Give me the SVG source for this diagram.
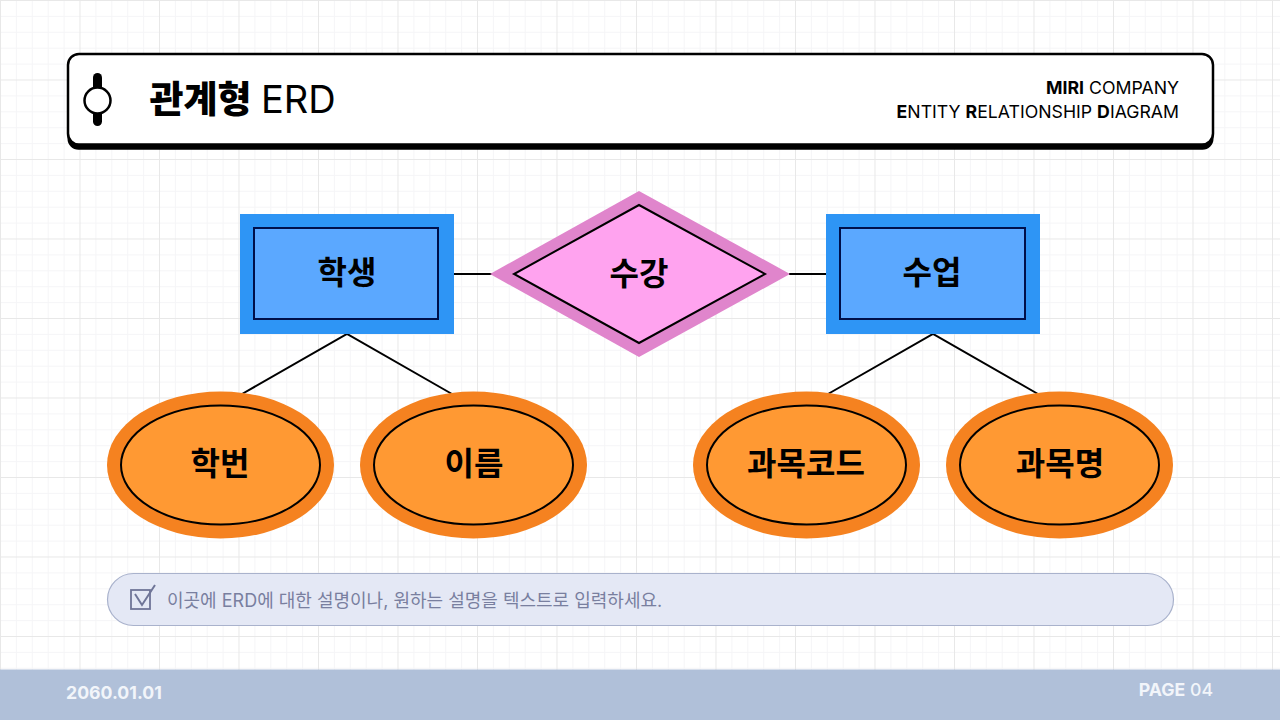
<svg xmlns="http://www.w3.org/2000/svg" width="1280" height="720" viewBox="0 0 1280 720">
<style>
text{font-family:"Inter","Noto Sans CJK KR",sans-serif;fill:#000}
.lbl{font-size:32px;font-weight:700;text-anchor:middle;dominant-baseline:central}
.conn{fill:none;stroke:#000;stroke-width:2}
.ent{fill:#5ba8ff;stroke:#00104a;stroke-width:2}
.entO{fill:#2e95f5}
.attO{fill:#f58220}
.att{fill:#ff9933;stroke:#000;stroke-width:2}
.hd{font-size:17.7px}
.b{font-weight:700}
</style>
<defs>
<pattern id="grid" width="79.5" height="79.5" patternUnits="userSpaceOnUse" x="0" y="0">
<path d="M16.4 0V79.5M32.3 0V79.5M48.2 0V79.5M64.100 0V79.5M0 16.4H79.5M0 32.3H79.5M0 48.2H79.5M0 64.100H79.5" stroke="#f5f5f7" stroke-width="1" fill="none"/>
<path d="M0.5 0V79.5M0 0.5H79.5" stroke="#e8e8e8" stroke-width="1" fill="none"/>
</pattern>
</defs>
<rect width="1280" height="720" fill="#fff"/>
<rect width="1280" height="670" fill="url(#grid)"/>
<g id="header">
<rect x="67.500" y="60" width="1146" height="89.700" rx="11" fill="#000"/>
<rect x="68" y="54" width="1145" height="90.500" rx="11" fill="#fff" stroke="#000" stroke-width="2.500"/>
<rect x="93" y="73" width="9" height="53" rx="4.500" fill="#000"/>
<circle cx="97.500" cy="100.500" r="13" fill="#fff" stroke="#000" stroke-width="2.500"/>
<text x="149.500" y="113" font-size="37" font-weight="800">관계형</text>
<text x="261" y="113" font-size="38" font-weight="400" font-family="Inter">ERD</text>
<text class="hd" x="1179" y="94" text-anchor="end"><tspan class="b">MIRI</tspan> COMPANY</text>
<text class="hd" x="1179" y="118" text-anchor="end"><tspan class="b">E</tspan>NTITY <tspan class="b">R</tspan>ELATIONSHIP <tspan class="b">D</tspan>IAGRAM</text>
</g>
<g id="connectors">
<path class="conn" d="M454 274H492M789 274H826M242 394L347 334L452 394M828 394L933 334L1038 394"/>
</g>
<g id="entity-student">
<rect class="entO" x="240" y="214" width="214" height="120"/>
<rect class="ent" x="254" y="228" width="184" height="91"/>
<text class="lbl" x="347" y="272.500">학생</text>
</g>
<g id="rel-enroll">
<polygon points="639,191 790,274 639,357 490,274" fill="#e085cc"/>
<polygon points="639,205 765,274 639,343 514,274" fill="#ffa3ef" stroke="#000" stroke-width="2"/>
<text class="lbl" x="639" y="273.500">수강</text>
</g>
<g id="entity-class">
<rect class="entO" x="826" y="214" width="214" height="120"/>
<rect class="ent" x="840" y="228" width="185" height="91"/>
<text class="lbl" x="932" y="272.500">수업</text>
</g>
<g id="attr-id">
<ellipse class="attO" cx="220.500" cy="465" rx="113.500" ry="73.500"/>
<ellipse class="att" cx="220.500" cy="465" rx="99.500" ry="59.500"/>
<text class="lbl" x="220" y="463.500">학번</text>
</g>
<g id="attr-name">
<ellipse class="attO" cx="473.500" cy="465" rx="113.500" ry="73.500"/>
<ellipse class="att" cx="473.500" cy="465" rx="99.500" ry="59.500"/>
<text class="lbl" x="474" y="463.500">이름</text>
</g>
<g id="attr-code">
<ellipse class="attO" cx="806.500" cy="465" rx="113.500" ry="73.500"/>
<ellipse class="att" cx="806.500" cy="465" rx="99.500" ry="59.500"/>
<text class="lbl" x="806" y="463.500">과목코드</text>
</g>
<g id="attr-title">
<ellipse class="attO" cx="1059.500" cy="465" rx="113.500" ry="73.500"/>
<ellipse class="att" cx="1059.500" cy="465" rx="99.500" ry="59.500"/>
<text class="lbl" x="1060" y="463.500">과목명</text>
</g>
<g id="note">
<rect x="107.500" y="573.500" width="1066" height="52" rx="26" fill="#e4e8f5" stroke="#a9b2cc" stroke-width="1.200"/>
<rect x="131" y="590" width="19" height="19" fill="none" stroke="#6f7598" stroke-width="1.800"/>
<path d="M135 594L142 605L155 585" fill="none" stroke="#6f7598" stroke-width="2"/>
<text x="167" y="607" font-size="18" style="fill:#797f9f">이곳에 ERD에 대한 설명이나, 원하는 설명을 텍스트로 입력하세요.</text>
</g>
<g id="footer">
<rect y="669.500" width="1280" height="50.500" fill="#b0c0d9"/>
<text x="66" y="699" font-size="17.700" font-weight="700" style="fill:#f2f5fa">2060.01.01</text>
<text x="1213" y="696" font-size="17.700" text-anchor="end" style="fill:#f2f5fa"><tspan font-weight="700">PAGE</tspan><tspan font-weight="500"> 04</tspan></text>
</g>
</svg>
